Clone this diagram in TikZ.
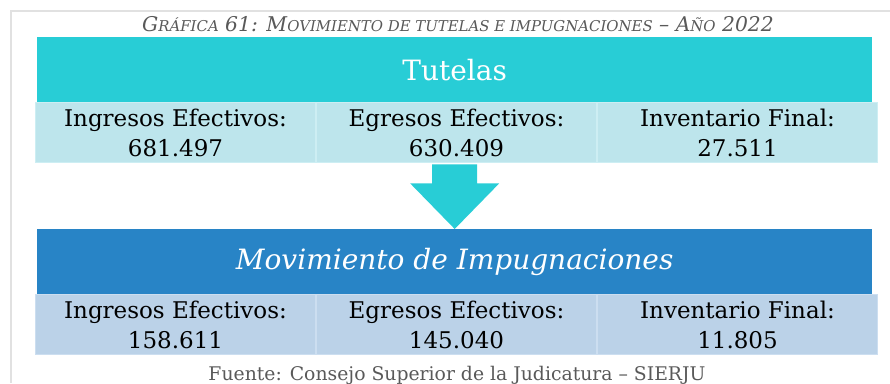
\documentclass[tikz,border=0pt]{standalone}
\usepackage{fontspec}
\setmainfont{DejaVu Serif}
\usetikzlibrary{positioning,calc}
\definecolor{tutcyan}{RGB}{40,205,214}
\definecolor{tutcelda}{RGB}{189,229,236}
\definecolor{tutborde}{RGB}{205,238,243}
\definecolor{impazul}{RGB}{40,132,198}
\definecolor{impcelda}{RGB}{187,210,232}
\definecolor{impborde}{RGB}{204,222,240}
\definecolor{marco}{RGB}{225,225,225}
\definecolor{gris60}{RGB}{89,89,89}
\newcommand{\versalita}[1]{{\fontsize{14.9}{17}\selectfont #1}}

\begin{document}
\begin{tikzpicture}[x=1pt, y=-1pt,
    banner/.style={minimum width=835pt, minimum height=65pt, inner sep=0pt,
        text=white, font=\fontsize{28}{34}\selectfont, anchor=north west},
    celda/.style={minimum width=280pt, minimum height=60pt, inner sep=0pt,
        align=center, line width=1pt, font=\fontsize{23}{29.5}\selectfont}]

    \useasboundingbox (0,0) rectangle (890,383);

    % Page frame
    \draw[marco, line width=1.5pt] (11,383) -- (11,11) -- (890,11);

    % Caption
    \node[gris60, font=\fontsize{20.3}{24}\selectfont\itshape, anchor=base] (titulo) at (458,31)
        {G\versalita{RÁFICA} 61: M\versalita{OVIMIENTO DE TUTELAS E IMPUGNACIONES} – A\versalita{ÑO} 2022};

    % Tutelas block
    \node[banner, fill=tutcyan] (tutBanner) at (37,37) {Tutelas};
    \node[celda, fill=tutcelda, draw=tutborde, anchor=north west] (ingT)
        at ([xshift=-2pt]tutBanner.south west) {Ingresos Efectivos:\\681.497};
    \node[celda, fill=tutcelda, draw=tutborde, right=0pt of ingT] (egrT) {Egresos Efectivos:\\630.409};
    \node[celda, fill=tutcelda, draw=tutborde, right=0pt of egrT] (invT) {Inventario Final:\\27.511};

    % Impugnaciones block
    \node[banner, fill=impazul, font=\fontsize{28}{34}\selectfont\itshape] (impBanner) at (37,229)
        {Movimiento de Impugnaciones};
    \node[celda, fill=impcelda, draw=impborde, anchor=north west] (ingI)
        at ([xshift=-2pt]impBanner.south west) {Ingresos Efectivos:\\158.611};
    \node[celda, fill=impcelda, draw=impborde, right=0pt of ingI] (egrI) {Egresos Efectivos:\\145.040};
    \node[celda, fill=impcelda, draw=impborde, right=0pt of egrI] (invI) {Inventario Final:\\11.805};

    % Down arrow between blocks
    \coordinate (flechaIni) at (impBanner.north |- egrT.south);
    \fill[tutcyan] ($(flechaIni)+(-22.5,1)$) -- ++(45,0) -- ++(0,19) -- ++(22,0)
        -- (impBanner.north) -- ($(flechaIni)+(-44.5,20)$) -- ++(22,0) -- cycle;

    % Source
    \node[gris60, font=\fontsize{18.8}{23}\selectfont, anchor=base] (fuente) at (457,380)
        {Fuente: Consejo Superior de la Judicatura – SIERJU};

\end{tikzpicture}
\end{document}
